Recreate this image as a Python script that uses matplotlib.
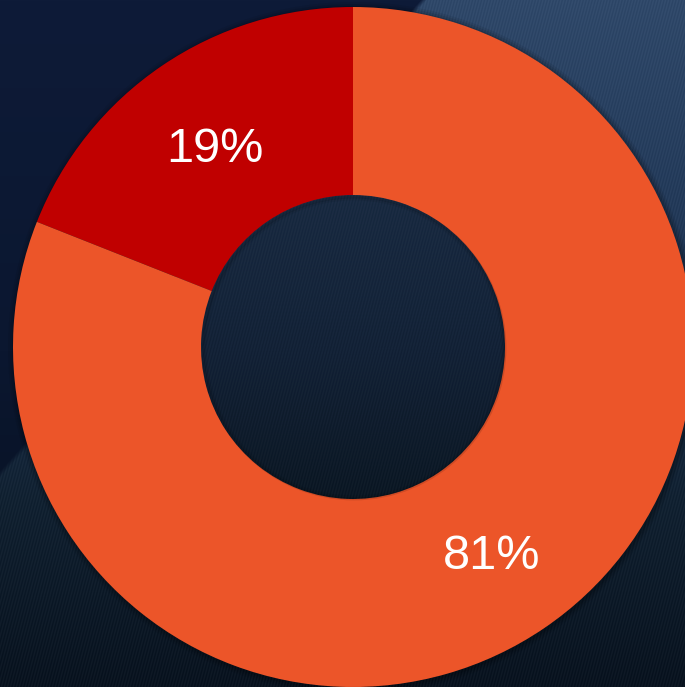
import numpy as np
import matplotlib
matplotlib.use("Agg")
import matplotlib.pyplot as plt
from matplotlib.colors import to_rgb
from matplotlib.patches import Circle
import matplotlib.transforms as mtrans

# Data
labels = ["Segment B", "Segment A"]
values = [19, 81]
colors = ["#C00000", "#EC5529"]

W, H = 685, 687
fig = plt.figure(figsize=(W / 100, H / 100), dpi=100)

# Background: dark navy gradient with a lighter diagonal panel
yy, xx = np.mgrid[0:H, 0:W].astype(float)

def grad(stops_y, stops_c):
    cs = np.array([to_rgb(c) for c in stops_c])
    out = np.empty((H, W, 3))
    for ch in range(3):
        out[..., ch] = np.interp(yy, stops_y, cs[:, ch])
    return out

dark = grad([0, 350, 687], ["#0e1b38", "#0b1730", "#060f1c"])
light = grad([0, 200, 350, 500, 687],
             ["#30496a", "#243b5a", "#1c304c", "#122232", "#0a1420"])
# boundary line from (420,0) to (0,470)
bx = 420 - 420 * (yy / 470.0)
mask = np.clip((xx - bx) / 6.0, 0, 1)
bg = dark * (1 - mask[..., None]) + light * mask[..., None]
# subtle diagonal streak texture (deterministic)
streak = 0.016 * np.sin((xx + 0.27 * yy) * 2.1) * mask
bg = np.clip(bg + streak[..., None], 0, 1)

bgax = fig.add_axes([0, 0, 1, 1], zorder=0)
bgax.imshow(bg, extent=(0, W, 0, H), origin="upper", aspect="auto")
bgax.set_axis_off()

ax = fig.add_axes([0, 0, 1, 1], zorder=1)
ax.patch.set_alpha(0)
cx, cy, R, r_in = 353, H - 347, 340, 152

# soft shadow around the ring
for k, a in [(6, 0.07), (4, 0.09), (2, 0.12)]:
    ax.add_patch(Circle((cx + 1, cy - 1), R + k, color="black", alpha=a, lw=0, zorder=0))

wedges, texts, autotexts = ax.pie(
    values, colors=colors, startangle=90, counterclock=True,
    center=(cx, cy), radius=R,
    wedgeprops=dict(width=R - r_in, linewidth=0),
    autopct="%1.0f%%", pctdistance=0.725,
    textprops=dict(color="white", fontsize=35, family=["Liberation Sans", "DejaVu Sans"]),
)
# faint inner shadow at the rim of the hole
for k, a in [(1, 0.12), (3, 0.07)]:
    ax.add_patch(Circle((cx + 1, cy - 1), r_in - k, fill=False, ec="black", lw=2, alpha=a, zorder=3))

shift = mtrans.offset_copy(ax.transData, fig=fig, x=0, y=-6, units="dots")
for at in autotexts:
    at.set_transform(shift)

ax.set_xlim(0, W)
ax.set_ylim(0, H)
ax.set_aspect("auto")
ax.set_axis_off()

fig.savefig("out.png", dpi=100)
